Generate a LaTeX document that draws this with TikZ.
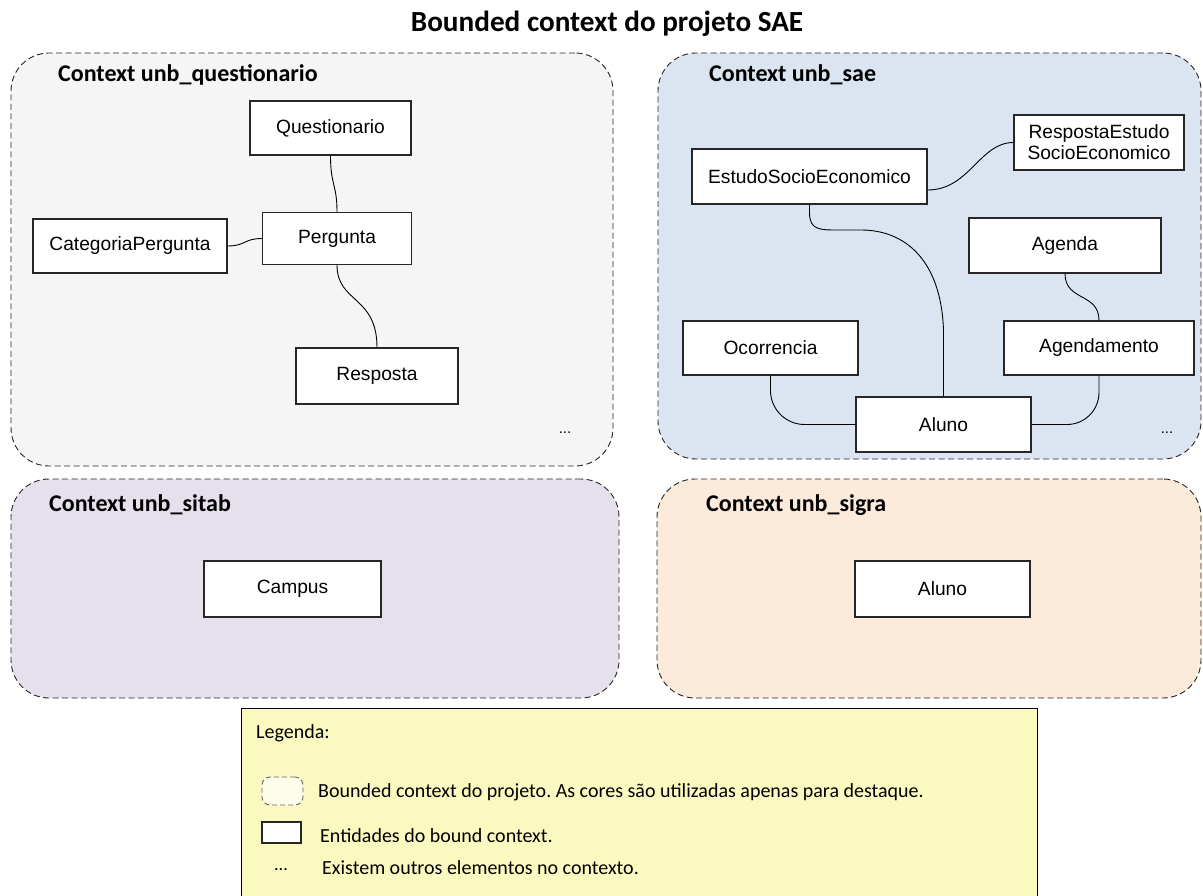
\documentclass[tikz,border=0pt]{standalone}
\usepackage{fontspec}
\newfontfamily\carlito{Carlito}
\newfontfamily\arialfont{Liberation Sans}
\definecolor{ctxgray}{HTML}{F5F5F5}
\definecolor{ctxblue}{HTML}{DBE5F1}
\definecolor{ctxpurple}{HTML}{E5E0EC}
\definecolor{ctxpeach}{HTML}{FCEADB}
\definecolor{legyellow}{HTML}{FAFAC0}
\definecolor{legivory}{HTML}{FDFDEA}
\frenchspacing
\begin{document}
\begin{tikzpicture}[x=1pt,y=-1pt,
  context/.style={draw=black!85, dash pattern=on 6pt off 3.5pt, line width=0.9pt,
    rounded corners=38pt, inner sep=0pt, outer sep=0pt},
  entity/.style={draw=black!85, fill=white, line width=1.1pt, inner sep=0pt,
    align=center, font=\arialfont\fontsize{19.2}{21}\selectfont},
  ctitle/.style={anchor=west, inner sep=0pt, font=\carlito\bfseries\fontsize{24}{28}\selectfont},
  more/.style={inner sep=0pt, font=\arialfont\fontsize{15}{16}\selectfont},
  link/.style={draw=black, line width=0.9pt},
  legtext/.style={anchor=west, inner sep=0pt, font=\carlito\fontsize{20}{24}\selectfont}
]
\useasboundingbox (0,0) rectangle (1203,896);

% heading
\node[font=\carlito\bfseries\fontsize{29.2}{32}\selectfont, inner sep=0pt] (title) at (607,24)
  {Bounded context do projeto SAE};

% bounded contexts
\node[context, fill=ctxgray,   minimum width=602pt, minimum height=413pt] (ctxQ) at (312,259.5) {};
\node[context, fill=ctxblue,   minimum width=543pt, minimum height=406pt] (ctxS) at (929.5,256) {};
\node[context, fill=ctxpurple, minimum width=608pt, minimum height=219pt] (ctxT) at (315,588.5) {};
\node[context, fill=ctxpeach,  minimum width=544pt, minimum height=219pt] (ctxG) at (929,588.5) {};

\node[ctitle] (tQ) at (58,75)  {Context unb\_questionario};
\node[ctitle] (tS) at (709,75) {Context unb\_sae};
\node[ctitle] (tT) at (49,505) {Context unb\_sitab};
\node[ctitle] (tG) at (706,505) {Context unb\_sigra};

% context unb_questionario
\node[entity, minimum width=161pt, minimum height=54pt] (quest) at (330.5,128) {Questionario};
\node[entity, minimum width=149pt, minimum height=52pt] (perg)  at (337,238.5) {Pergunta};
\node[entity, minimum width=194pt, minimum height=54pt] (cat)   at (130,246) {CategoriaPergunta};
\node[entity, minimum width=162pt, minimum height=56pt] (resp)  at (377,376) {Resposta};
\node[more] (moreQ) at (565,433) {...};

\draw[link] (quest.south) .. controls +(0,30) and +(0,-28) .. (perg.north);
\draw[link] (cat.east) .. controls +(18,0) and +(-18,0) .. (perg.west);
\draw[link] (perg.south) .. controls +(0,38) and +(0,-52) .. (resp.north);

% context unb_sae
\node[entity, minimum width=235pt, minimum height=55pt] (estudo) at (809.5,176.5) {EstudoSocioEconomico};
\node[entity, minimum width=170pt, minimum height=55pt] (respest) at (1099,142.5) {RespostaEstudo\\SocioEconomico};
\node[entity, minimum width=192pt, minimum height=55pt] (agenda) at (1065,245.5) {Agenda};
\node[entity, minimum width=175pt, minimum height=54pt] (ocorr) at (770.5,348) {Ocorrencia};
\node[entity, minimum width=190pt, minimum height=54pt] (agdm) at (1099,348) {Agendamento};
\node[entity, minimum width=175pt, minimum height=55pt] (aluno) at (943.5,424.5) {Aluno};
\node[more] (moreS) at (1167,433) {...};

\draw[link] ([yshift=-13.5pt]estudo.east) .. controls +(42,0) and +(-34,0) .. (respest.west);
\draw[link] (estudo.south) -- ++(0,8) .. controls +(0,18) and +(-20,0) .. (840,230) -- (861,230)
  .. controls (905,230) and (941,260) .. (943.5,330) -- (aluno.north);
\draw[link] (agenda.south) .. controls +(0,28) and +(0,-28) .. (agdm.north);
\draw[link, rounded corners=34pt] (ocorr.south) |- (aluno.west);
\draw[link, rounded corners=32pt] (agdm.south) |- (aluno.east);

% context unb_sitab
\node[entity, minimum width=177pt, minimum height=56pt] (campus) at (292.5,589) {Campus};

% context unb_sigra
\node[entity, minimum width=175pt, minimum height=56pt] (alunoG) at (942.5,589) {Aluno};

% legend
\node[draw=black, line width=1.3pt, fill=legyellow, minimum width=796pt, minimum height=195pt,
  inner sep=0pt, anchor=north west] (legend) at (241,708) {};
\node[legtext] (legT) at (256,733) {Legenda:};
\node[draw=black!60, dash pattern=on 5pt off 3pt, line width=0.9pt, rounded corners=8pt,
  fill=legivory, minimum width=41pt, minimum height=28pt, inner sep=0pt] (legCtx) at (282.5,791) {};
\node[legtext] (legCtxT) at (318,792) {Bounded context do projeto. As cores são utilizadas apenas para destaque.};
\node[draw=black!85, fill=white, line width=1.1pt, minimum width=39pt, minimum height=21pt,
  inner sep=0pt] (legEnt) at (281.5,832.5) {};
\node[legtext] (legEntT) at (320,836) {Entidades do bound context.};
\node[inner sep=0pt, font=\carlito\fontsize{18}{22}\selectfont] (legDots) at (281,870) {...};
\node[legtext] (legDotsT) at (322,868) {Existem outros elementos no contexto.};
\end{tikzpicture}
\end{document}
